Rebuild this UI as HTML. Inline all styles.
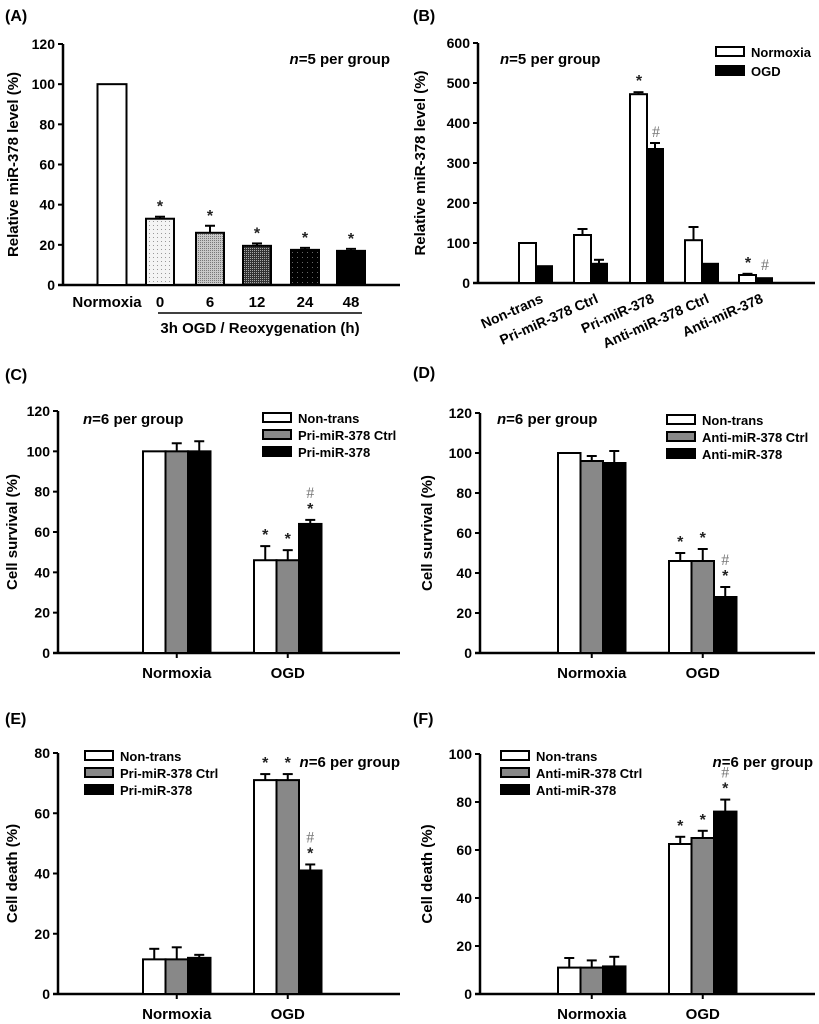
<!DOCTYPE html>
<html><head><meta charset="utf-8"><style>
html,body{margin:0;padding:0;background:#fff;}
svg{display:block;font-family:"Liberation Sans",Arial,sans-serif;font-weight:bold;}
</style></head><body>
<svg id="fig" width="819" height="1024" viewBox="0 0 819 1024" xmlns="http://www.w3.org/2000/svg">
<defs>
<pattern id="pdot" width="4" height="4" patternUnits="userSpaceOnUse"><rect width="4" height="4" fill="#f4f4f4"/><rect x="1" y="1" width="1" height="1" fill="#999"/></pattern>
<pattern id="pgray" width="2" height="2" patternUnits="userSpaceOnUse"><rect width="2" height="2" fill="#c8c8c8"/><rect width="1" height="1" fill="#777"/></pattern>
<pattern id="pdark" width="2" height="2" patternUnits="userSpaceOnUse"><rect width="2" height="2" fill="#333"/><rect width="1" height="1" fill="#aaa"/></pattern>
<pattern id="pblk" width="5" height="5" patternUnits="userSpaceOnUse"><rect width="5" height="5" fill="#000"/><rect x="2" y="2" width="1" height="1" fill="#666"/></pattern>
</defs>
</svg>
<script>
// Panel A data
const aCats=['Normoxia','0','6','12','24','48'];
const aVals=[100,33,26,19.5,17.5,17];
const aErr=[0,1,3.5,1.2,1,1];
const aTicks=[0,20,40,60,80,100,120];
// Panel B data
const bCats=['Non-trans','Pri-miR-378 Ctrl','Pri-miR-378','Anti-miR-378 Ctrl','Anti-miR-378'];
const bNorm=[100,120,472,107,20];
const bNormErr=[0,15,5,33,3];
const bOgd=[42,48,335,48,12];
const bOgdErr=[0,10,15,0,0];
const bTicks=[0,100,200,300,400,500,600];
// Panel C
const cGroups=['Normoxia','OGD'];
const cSeries=['Non-trans','Pri-miR-378 Ctrl','Pri-miR-378'];
const cNormoxia=[100,100,100];
const cNormoxiaErr=[0,4,5];
const cOgd=[46,46,64];
const cOgdErr=[7,5,2];
const cTicks=[0,20,40,60,80,100,120];
// Panel D
const dSeries=['Non-trans','Anti-miR-378 Ctrl','Anti-miR-378'];
const dNormoxia=[100,96,95];
const dNormoxiaErr=[0,2.5,6];
const dOgd=[46,46,28];
const dOgdErr=[4,6,5];
const dTicks=[0,20,40,60,80,100,120];
// Panel E
const eNormoxia=[11.5,11.5,12];
const eNormoxiaErr=[3.5,4,1];
const eOgd=[71,71,41];
const eOgdErr=[2,2,2];
const eTicks=[0,20,40,60,80];
// Panel F
const fNormoxia=[11,11,11.5];
const fNormoxiaErr=[4,3,4];
const fOgd=[62.5,65,76];
const fOgdErr=[3,3,5];
const fTicks=[0,20,40,60,80,100];

const svg=document.getElementById('fig');
const NS='http://www.w3.org/2000/svg';
function mk(tag,attrs,parent){const e=document.createElementNS(NS,tag);for(const k in attrs)e.setAttribute(k,attrs[k]);(parent||svg).appendChild(e);return e;}
function txt(s,x,y,size,anchor,parent){const t=mk('text',{x:x,y:y,'font-size':size,'text-anchor':anchor||'start'},parent);t.textContent=s;return t;}

function axes(g,x0,xEnd,y0,yTop,ticks,maxV,label,labelX){
  const ys=v=>y0-(v/maxV)*(y0-yTop);
  const ya=mk('line',{x1:x0,y1:y0,x2:x0,y2:yTop,stroke:'#000','stroke-width':2.5},g);
  
  
  const xa=mk('line',{x1:x0-5,y1:y0,x2:xEnd,y2:y0,stroke:'#000','stroke-width':2.5},g);
  
  
  ticks.forEach(v=>{
    mk('line',{x1:x0-5,y1:ys(v),x2:x0,y2:ys(v),stroke:'#000','stroke-width':2},g);
    const t=txt(String(v),x0-8,ys(v)+5,14,'end',g);
    
    
  });
  const yc=(y0+yTop)/2;
  const lt=mk('text',{x:labelX,y:yc,'font-size':15,'text-anchor':'middle',transform:`rotate(-90 ${labelX} ${yc})`},g);
  lt.textContent=label;
  
  
  return ys;
}
function bar(g,x,w,ys,v,err,fill){
  if(err>0){
    mk('line',{x1:x+w/2,y1:ys(v),x2:x+w/2,y2:ys(v+err),stroke:'#000','stroke-width':2},g);
    mk('line',{x1:x+w/2-5,y1:ys(v+err),x2:x+w/2+5,y2:ys(v+err),stroke:'#000','stroke-width':2},g);
  }
  const r=mk('rect',{x:x,y:ys(v),width:w,height:ys(0)-ys(v),fill:fill,stroke:'#000','stroke-width':2},g);
  
  
  return r;
}
function mark(g,s,x,y){const t=txt(s,x,y,s==='*'?16:16,'middle',g);t.setAttribute('font-weight',s==='#'?'normal':'bold');if(s==='#')t.setAttribute('font-family','"Liberation Serif",serif');t.setAttribute('fill',s==='#'?'#777':'#222');return t;}
function legend(g,x,y,names,fills,dy){
  names.forEach((n,i)=>{
    const r=mk('rect',{x:x,y:y+i*dy-5,width:28,height:9,fill:fills[i],stroke:'#000','stroke-width':2},g);
    
    
    const t=txt(n,x+35,y+i*dy+5,13,'start',g);
    
    
  });
}
function nLabel(g,s,x,y,anchor){
  const t=mk('text',{x:x,y:y,'font-size':15,'text-anchor':anchor||'start'},g);
  const i=mk('tspan',{'font-style':'italic'},t);i.textContent='n';
  const r=mk('tspan',{},t);r.textContent=s;
  
  
}
function panelLabel(s,x,y){const t=txt(s,x,y,16,'start');}

// ---- Panel A
(function(){
  const g=mk('g',{});
  panelLabel('(A)',5,21);
  const ys=axes(g,63,400,285,44,aTicks,120,'Relative miR-378 level (%)',18);
  const centers=[112,160,210,257,305,351];
  const fills=['#fff','url(#pdot)','url(#pgray)','url(#pdark)','url(#pblk)','#000'];
  aCats.forEach((c,i)=>{
    const w=i===0?29:28;
    bar(g,centers[i]-w/2,w,ys,aVals[i],aErr[i],fills[i]);
    if(i>0)mark(g,'*',centers[i],ys(aVals[i]+aErr[i])-5);
    const t=txt(c,i===0?107:centers[i],307,15,'middle',g);
    
  });
  mk('line',{x1:158,y1:313,x2:362,y2:313,stroke:'#000','stroke-width':1.5},g);
  const xt=txt('3h OGD / Reoxygenation (h)',260,333,15,'middle',g);
  
  nLabel(g,'=5 per group',390,64,'end');
})();

// ---- Panel B
(function(){
  const g=mk('g',{});
  panelLabel('(B)',413,21);
  const ys=axes(g,478,815,283,43,bTicks,600,'Relative miR-378 level (%)',425);
  const centers=[536,591,647,702,756];
  bCats.forEach((c,i)=>{
    bar(g,centers[i]-17,17,ys,bNorm[i],bNormErr[i],'#fff');
    bar(g,centers[i],16,ys,bOgd[i],bOgdErr[i],'#000');
    const lx=centers[i]+8,ly=302;
    const t=mk('text',{x:lx,y:ly,'font-size':14,'text-anchor':'end',transform:`rotate(-24 ${lx} ${ly})`},g);
    t.textContent=c;
  });
  mark(g,'*',centers[2]-8,ys(bNorm[2]+bNormErr[2])-6);
  mark(g,'#',centers[2]+9,ys(bOgd[2]+bOgdErr[2])-6);
  mark(g,'*',centers[4]-8,ys(bNorm[4]+bNormErr[4])-6);
  mark(g,'#',centers[4]+9,ys(bOgd[4]+bOgdErr[4])-8);
  legend(g,716,52,['Normoxia','OGD'],['#fff','#000'],19);
  nLabel(g,'=5 per group',500,64);
})();

function groupPanel(name,x0,xEnd,y0,yTop,ticks,maxV,ylab,labX,starts,normV,normE,ogdV,ogdE,stars,hashIdx){
  const g=mk('g',{});
  const ys=axes(g,x0,xEnd,y0,yTop,ticks,maxV,ylab,labX);
  const fills=['#fff','#888','#000'];const w=22.5;
  [[normV,normE],[ogdV,ogdE]].forEach((grp,gi)=>{
    grp[0].forEach((v,i)=>{
      const bx=starts[gi]+i*w;
      bar(g,bx,w,ys,v,grp[1][i],fills[i]);
      if(gi===1&&stars){
        mark(g,'*',bx+w/2,ys(v+grp[1][i])-6);
        if(i===hashIdx)mark(g,'#',bx+w/2,ys(v+grp[1][i])-22);
      }
    });
    const cx=starts[gi]+1.5*w;
    mk('line',{x1:cx,y1:y0,x2:cx,y2:y0+5,stroke:'#000','stroke-width':2},g);
    const t=txt(cGroups[gi],cx,y0+25,15,'middle',g);
    
  });
  return g;
}

// ---- Panel C
panelLabel('(C)',5,380);
let gc=groupPanel('panel-c',58,400,653,411,cTicks,120,'Cell survival (%)',17,[143,254],cNormoxia,cNormoxiaErr,cOgd,cOgdErr,true,2);
legend(gc,263,418,cSeries,['#fff','#888','#000'],17);
nLabel(gc,'=6 per group',83,424);

// ---- Panel D
panelLabel('(D)',413,378);
let gd=groupPanel('panel-d',480,815,653,413,dTicks,120,'Cell survival (%)',432,[558,669],dNormoxia,dNormoxiaErr,dOgd,dOgdErr,true,2);
legend(gd,667,420,dSeries,['#fff','#888','#000'],17);
nLabel(gd,'=6 per group',497,424);

// ---- Panel E
panelLabel('(E)',5,724);
let ge=groupPanel('panel-e',58,400,994,753,eTicks,80,'Cell death (%)',17,[143,254],eNormoxia,eNormoxiaErr,eOgd,eOgdErr,true,2);
legend(ge,85,756,cSeries,['#fff','#888','#000'],17);
nLabel(ge,'=6 per group',400,767,'end');

// ---- Panel F
panelLabel('(F)',413,724);
let gf=groupPanel('panel-f',480,815,994,754,fTicks,100,'Cell death (%)',432,[558,669],fNormoxia,fNormoxiaErr,fOgd,fOgdErr,true,2);
legend(gf,501,756,dSeries,['#fff','#888','#000'],17);
nLabel(gf,'=6 per group',813,767,'end');
</script>
</body></html>
